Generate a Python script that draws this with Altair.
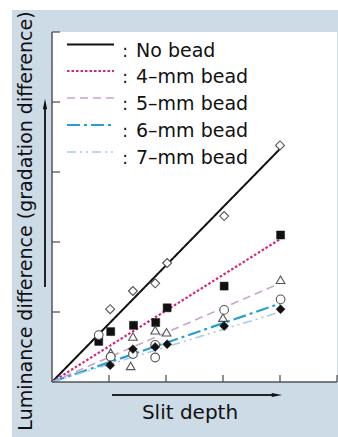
import altair as alt
import pandas as pd

# ---- data ----
series = ["No bead", "4\u2013mm bead", "5\u2013mm bead", "6\u2013mm bead", "7\u2013mm bead"]
line_end_x = 4.0
line_end_y = [3.33, 2.04, 1.41, 1.12, 1.00]

nobead_x = [1.02, 1.42, 1.81, 2.02, 3.02, 4.0]
nobead_y = [1.04, 1.30, 1.41, 1.70, 2.37, 3.38]

bead4_x = [0.82, 1.03, 1.43, 1.82, 2.02, 3.02, 4.01]
bead4_y = [0.58, 0.72, 0.81, 0.85, 1.06, 1.37, 2.10]

bead5_x = [1.03, 1.42, 1.38, 1.81, 2.01, 3.0, 4.01]
bead5_y = [0.42, 0.65, 0.23, 0.74, 0.71, 0.92, 1.46]

bead6_x = [0.82, 1.03, 1.42, 1.81, 1.81, 3.02, 4.01]
bead6_y = [0.67, 0.36, 0.40, 0.53, 0.35, 1.03, 1.18]

bead7_x = [1.02, 1.42, 1.81, 2.02, 3.02, 4.01]
bead7_y = [0.24, 0.47, 0.50, 0.54, 0.80, 1.04]

tick_values = [1, 2, 3, 4, 5]

# ---- styles ----
colors = ["#111111", "#d8247f", "#c9a3cc", "#2a9ed2", "#a6cbe8"]
dashes = [[1, 0], [2.5, 2], [8, 5], [13, 4, 3, 4], [9, 4, 2, 4, 2, 4]]
widths = [2, 2.2, 1.6, 2.2, 1.6]
FONT = "DejaVu Sans"
W, H = 285, 350

xs = alt.Scale(domain=[0, 5])
ys = alt.Scale(domain=[0, 5])

layers = []

# white strips of the figure frame
layers.append(alt.Chart(pd.DataFrame({"a": [0]})).mark_rect(color="white").encode(
    x=alt.value(-52), x2=alt.value(-40), y=alt.value(-32), y2=alt.value(405)))
layers.append(alt.Chart(pd.DataFrame({"a": [0]})).mark_rect(color="white").encode(
    x=alt.value(-52), x2=alt.value(286), y=alt.value(-32), y2=alt.value(-22)))

# fitted lines
for i, name in enumerate(series):
    df = pd.DataFrame({"x": [0.0, line_end_x], "y": [0.0, line_end_y[i]]})
    layers.append(alt.Chart(df).mark_line(
        color=colors[i], strokeDash=dashes[i], strokeWidth=widths[i]).encode(
        x=alt.X("x:Q", scale=xs, axis=None),
        y=alt.Y("y:Q", scale=ys, axis=None)))

# markers
marker_sets = [
    (nobead_x, nobead_y, "diamond", False, 80),
    (bead4_x, bead4_y, "square", True, 64),
    (bead5_x, bead5_y, "triangle-up", False, 75),
    (bead6_x, bead6_y, "circle", False, 75),
    (bead7_x, bead7_y, "diamond", True, 80),
]
for mx, my, shape, filled, size in marker_sets:
    df = pd.DataFrame({"x": mx, "y": my})
    if filled:
        mk = alt.Chart(df).mark_point(shape=shape, filled=True, fill="#111111",
                                      stroke="#111111", strokeWidth=0.5, size=size, opacity=1)
    else:
        mk = alt.Chart(df).mark_point(shape=shape, filled=True, fill="white",
                                      stroke="#555555", strokeWidth=1.1, size=size, opacity=1)
    layers.append(mk.encode(x=alt.X("x:Q", scale=xs, axis=None),
                            y=alt.Y("y:Q", scale=ys, axis=None)))

# axes lines and inward ticks
axis_col = "#555555"
layers.append(alt.Chart(pd.DataFrame({"a": [0]})).mark_rule(color=axis_col, strokeWidth=1.5).encode(
    x=alt.value(0), y=alt.value(0), y2=alt.value(H)))
layers.append(alt.Chart(pd.DataFrame({"a": [0]})).mark_rule(color=axis_col, strokeWidth=1.5).encode(
    x=alt.value(0), x2=alt.value(W), y=alt.value(H)))
tdf = pd.DataFrame({"v": tick_values})
layers.append(alt.Chart(tdf).mark_rule(color=axis_col, strokeWidth=1.3).encode(
    y=alt.Y("v:Q", scale=ys, axis=None), x=alt.value(0), x2=alt.value(8)))
layers.append(alt.Chart(tdf).mark_rule(color=axis_col, strokeWidth=1.3).encode(
    x=alt.X("v:Q", scale=xs, axis=None), y=alt.value(H), y2=alt.value(H - 7)))

# legend
row_y = [12.5, 39, 66, 93, 120]
for i, name in enumerate(series):
    layers.append(alt.Chart(pd.DataFrame({"a": [0]})).mark_rule(
        color=colors[i], strokeDash=dashes[i], strokeWidth=widths[i]).encode(
        x=alt.value(15), x2=alt.value(62), y=alt.value(row_y[i])))
    layers.append(alt.Chart(pd.DataFrame({"t": [":"]})).mark_text(
        font=FONT, fontSize=17, align="center", baseline="alphabetic", color="#111111").encode(
        text="t:N", x=alt.value(73), y=alt.value(row_y[i] + 12)))
    layers.append(alt.Chart(pd.DataFrame({"t": [name]})).mark_text(
        font=FONT, fontSize=19, align="left", baseline="alphabetic", color="#111111").encode(
        text="t:N", x=alt.value(84), y=alt.value(row_y[i] + 12)))

# axis titles and arrows
layers.append(alt.Chart(pd.DataFrame({"t": ["Luminance difference (gradation difference)"]})).mark_text(
    font=FONT, fontSize=19, angle=270, align="center", baseline="middle", color="#111111").encode(
    text="t:N", x=alt.value(-26), y=alt.value(189)))
layers.append(alt.Chart(pd.DataFrame({"a": [0]})).mark_rule(color="#222222", strokeWidth=2).encode(
    x=alt.value(-7), y=alt.value(74), y2=alt.value(255)))
layers.append(alt.Chart(pd.DataFrame({"a": [0]})).mark_point(
    shape="M-0.4,1L0,-1L0.4,1Z", filled=True, color="#111111", size=110, opacity=1).encode(
    x=alt.value(-7), y=alt.value(72)))

layers.append(alt.Chart(pd.DataFrame({"t": ["Slit depth"]})).mark_text(
    font=FONT, fontSize=20, align="center", baseline="alphabetic", color="#111111").encode(
    text="t:N", x=alt.value(138), y=alt.value(387)))
layers.append(alt.Chart(pd.DataFrame({"a": [0]})).mark_rule(color="#222222", strokeWidth=2).encode(
    x=alt.value(60), x2=alt.value(222), y=alt.value(363)))
layers.append(alt.Chart(pd.DataFrame({"a": [0]})).mark_point(
    shape="M-1,-0.4L1,0L-1,0.4Z", filled=True, color="#111111", size=110, opacity=1).encode(
    x=alt.value(225), y=alt.value(363)))

chart = alt.layer(*layers).properties(
    width=W, height=H,
    padding={"left": 52, "top": 32, "right": 1, "bottom": 55},
    autosize=alt.AutoSizeParams(type="none"),
    background="#cddbe6",
).configure_view(stroke=None, fill="white")

chart.save("out.html", embed_options={"renderer": "svg", "actions": False})
